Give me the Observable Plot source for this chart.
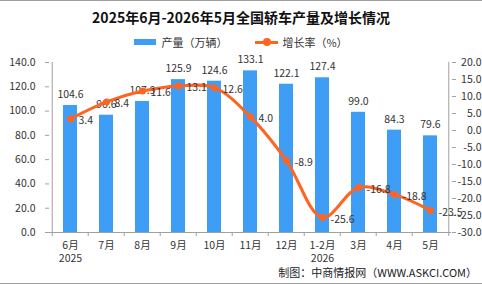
<!DOCTYPE html>
<html>
<head>
<meta charset="utf-8">
<script src="https://cdn.jsdelivr.net/npm/d3@7"></script>
<script src="https://cdn.jsdelivr.net/npm/@observablehq/plot@0.6"></script>
<style>
  html, body { margin: 0; padding: 0; background: #fff; }
  body { width: 482px; height: 284px; position: relative; overflow: hidden;
         font-family: "Noto Sans CJK SC", "Noto Sans", sans-serif; color: #333; }
  #topline { position: absolute; left: 0; top: 0; width: 482px; height: 1px; background: #a0a0a0; }
  #bottomline { position: absolute; left: 0; top: 283px; width: 482px; height: 1px; background: #a0a0a0; }
  #title { position: absolute; left: 0; top: 6px; width: 482px; text-align: center;
           font-size: 14px; font-weight: bold; color: #111; line-height: 22px; }
  #legend { position: absolute; left: 0; top: 34px; width: 482px; height: 16px;
            display: flex; justify-content: center; align-items: center; font-size: 11px; color: #333; }
  .item { display: flex; align-items: center; margin: 0 14px; }
  .sw-bar { width: 22px; height: 6px; background: #3e9df5; margin-right: 5px; }
  .sw-line { position: relative; width: 23px; height: 3px; background: #ff6420; margin-right: 4px; }
  .sw-line::after { content: ""; position: absolute; left: 8px; top: -2.5px; width: 8px; height: 8px;
                    border-radius: 50%; background: #ff6420; }
  #chart { position: absolute; left: 0; top: 52px; }
  #caption { position: absolute; right: 5px; top: 264px; font-size: 11px; color: #222; line-height: 16px; }
</style>
</head>
<body>
<div id="topline"></div>
<div id="title">2025年6月-2026年5月全国轿车产量及增长情况</div>
<div id="legend">
  <div class="item"><div class="sw-bar"></div><span>产量（万辆）</span></div>
  <div class="item"><div class="sw-line"></div><span>增长率（%）</span></div>
</div>
<div id="chart"></div>
<div id="caption">制图：中商情报网（WWW.ASKCI.COM）</div>
<div id="bottomline"></div>
<script>
const months = ["6月","7月","8月","9月","10月","11月","12月","1-2月","3月","4月","5月"];
const years = ["2025","","","","","","","2026","","",""];
const production = [104.6, 96.6, 107.9, 125.9, 124.6, 133.1, 122.1, 127.4, 99.0, 84.3, 79.6];
const growth = [3.4, 8.4, 11.6, 13.1, 12.6, 4.0, -8.9, -25.6, -16.8, -18.8, -23.5];
const leftTicks = [0, 20, 40, 60, 80, 100, 120, 140];
const rightTicks = [-30, -25, -20, -15, -10, -5, 0, 5, 10, 15, 20];

const W = 482, H = 231, mL = 49, mR = 31, mT = 10, mB = 51;
const leftDomain = [0, 140];
const rightDomain = [-30, 20];
const toLeft = g => (g - rightDomain[0]) * (leftDomain[1] - leftDomain[0]) / (rightDomain[1] - rightDomain[0]) + leftDomain[0];
const step = (W - mL - mR) / months.length;

const data = months.map((m, i) => ({m, y: years[i], p: production[i], g: growth[i]}));
const yearOf = new Map(months.map((m, i) => [m, years[i]]));

const blue = "#3e9df5", orange = "#ff6420", gray = "#a0a0a0";

const chart = Plot.plot({
  width: W, height: H, marginLeft: mL, marginRight: mR, marginTop: mT, marginBottom: mB,
  style: {fontFamily: '"Noto Sans CJK SC", "Noto Sans", sans-serif', fontSize: "10.5px", color: "#333", overflow: "visible"},
  x: {domain: months, padding: 0, axis: null},
  y: {domain: leftDomain, axis: null},
  marks: [
    Plot.barY(data, {x: "m", y: "p", fill: blue, insetLeft: 11, insetRight: 11}),
    Plot.ruleY([0], {stroke: gray}),
    Plot.ruleX([months[0]], {stroke: gray, dx: -step / 2}),
    Plot.ruleX([months[months.length - 1]], {stroke: gray, dx: step / 2}),
    Plot.axisY({ticks: leftTicks, tickFormat: d => d.toFixed(1), tickSize: 4, tickPadding: 10, stroke: gray, fill: "#333", label: null}),
    Plot.axisY({anchor: "right", ticks: rightTicks.map(toLeft), tickFormat: (d, i) => rightTicks[i].toFixed(1),
      tickSize: 4, tickPadding: 26, textAnchor: "end", stroke: gray, fill: "#333", label: null}),
    Plot.axisX({tickSize: 0, tickPadding: 8, lineHeight: 1.2, fill: "#333", label: null,
      tickFormat: d => yearOf.get(d) ? d + "\n" + yearOf.get(d) : d}),
    Plot.axisX({tickSize: 4, tickFormat: () => "", dx: -step / 2, stroke: gray, label: null}),
    Plot.axisX({ticks: [months[months.length - 1]], tickSize: 4, tickFormat: () => "", dx: step / 2, stroke: gray, label: null}),
    Plot.text(data, {x: "m", y: "p", text: d => d.p.toFixed(1), dy: -11, fill: "#333"}),
    Plot.line(data, {x: "m", y: d => toLeft(d.g), stroke: orange, strokeWidth: 3, curve: "catmull-rom"}),
    Plot.dot(data, {x: "m", y: d => toLeft(d.g), r: 3.5, fill: orange, stroke: "none"}),
    Plot.text(data, {x: "m", y: d => toLeft(d.g), text: d => d.g.toFixed(1), textAnchor: "start", dx: 8, dy: 2, fill: "#333"})
  ]
});
document.getElementById("chart").appendChild(chart);
</script>
</body>
</html>
